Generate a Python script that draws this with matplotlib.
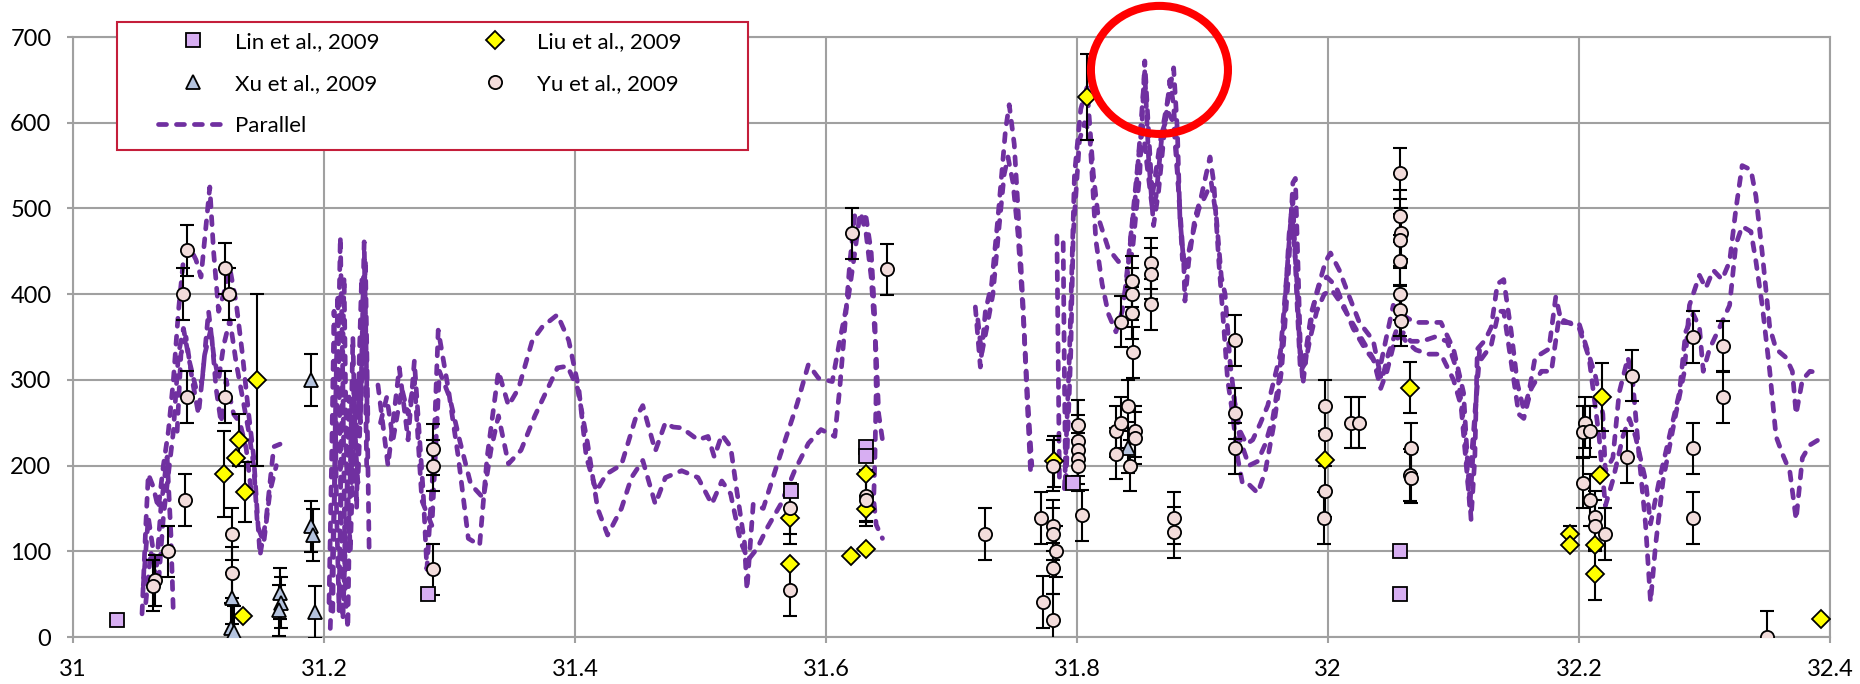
import numpy as np
import matplotlib
matplotlib.use("Agg")
import matplotlib.pyplot as plt
from matplotlib.patches import Ellipse, Rectangle

plt.rcParams['font.family'] = ['Lato', 'DejaVu Sans']

nan = np.nan

# ---- measured data ----
lin_x = [31.035, 31.283, 31.572, 31.632, 31.632, 31.797, 32.057, 32.057]
lin_y = [20, 50, 170, 222, 211, 180, 100, 50]

xu_x = [31.127, 31.126, 31.128, 31.165, 31.166, 31.164, 31.190, 31.190, 31.191, 31.193, 31.841]
xu_y = [45, 10, 6, 51, 40, 31, 300, 129, 119, 29, 221]
xu_err = [30, 30, 30, 30, 30, 30, 30, 30, 30, 30, 30]

liu_x = [31.120, 31.132, 31.130, 31.137, 31.1355, 31.147, 31.571, 31.571, 31.620, 31.632,
         31.632, 31.632, 31.782, 31.808, 31.998, 32.065, 32.193, 32.193, 32.213, 32.213,
         32.217, 32.218, 32.393]
liu_y = [190, 230, 209, 169, 25, 300, 139, 85, 95, 103, 190, 149, 205, 630, 206, 291,
         120, 107, 107, 73, 189, 280, 21]
liu_err = [50, 30, 0, 35, 0, 100, 30, 0, 0, 0, 0, 15, 30, 50, 0, 30, 10, 0, 0, 30, 0, 40, 0]

yu_x = [31.065, 31.064, 31.076, 31.089, 31.091, 31.088, 31.091, 31.121, 31.124, 31.121,
        31.127, 31.127, 31.287, 31.287, 31.287, 31.571, 31.571, 31.621, 31.649, 31.632,
        31.632, 31.727, 31.771, 31.773, 31.781, 31.781, 31.783, 31.781, 31.781, 31.781,
        31.801, 31.801, 31.801, 31.801, 31.801, 31.804, 31.831, 31.831, 31.835, 31.835,
        31.841, 31.844, 31.844, 31.844, 31.845, 31.846, 31.846, 31.842, 31.859, 31.859,
        31.859, 31.877, 31.877, 31.926, 31.926, 31.926, 31.998, 31.998, 31.998, 31.997,
        32.018, 32.025, 32.057, 32.057, 32.058, 32.057, 32.057, 32.057, 32.057, 32.058,
        32.066, 32.065, 32.066, 32.205, 32.203, 32.209, 32.203, 32.209, 32.213, 32.213,
        32.221, 32.242, 32.238, 32.291, 32.291, 32.291, 32.315, 32.315, 32.350]
yu_y = [66, 60, 100, 160, 280, 400, 451, 430, 400, 280,
        120, 75, 219, 200, 79, 150, 55, 471, 429, 165,
        160, 120, 139, 41, 130, 120, 100, 80, 20, 200,
        247, 229, 218, 208, 200, 142, 240, 214, 250, 368,
        270, 378, 400, 415, 332, 240, 232, 200, 436, 424,
        388, 139, 122, 346, 261, 220, 270, 237, 170, 139,
        250, 250, 541, 491, 471, 463, 439, 400, 381, 369,
        220, 189, 186, 250, 239, 240, 180, 160, 140, 130,
        120, 305, 210, 350, 220, 139, 339, 280, 0]
yu_err = [30] * len(yu_x)

# Parallel model, three traces (nan = break)
par1_x = [31.055, 31.058, 31.060, 31.064, 31.068, 31.072, 31.076, 31.080, 31.084, 31.088,
          31.093, 31.098, 31.102, 31.106, 31.109, 31.112, 31.116, 31.120, 31.125, 31.130,
          31.135, 31.140, 31.144, 31.149, 31.154, 31.160, 31.165, nan,
          31.205, 31.208, 31.211, 31.213, 31.215, 31.217, 31.219, 31.221, 31.223, 31.225,
          31.227, 31.229, 31.232, 31.234, 31.236, nan,
          31.243, 31.251, 31.260, 31.267, 31.272, 31.279, 31.282, 31.287, 31.291, 31.299,
          31.307, 31.315, 31.324, 31.330, 31.339, 31.347, 31.355, 31.366, 31.374, 31.386,
          31.395, 31.403, 31.409, 31.417, 31.425, 31.437, 31.448, 31.454, 31.464, 31.472,
          31.478, 31.485, 31.498, 31.506, 31.511, 31.517, 31.524, 31.529, 31.535, 31.537,
          31.542, 31.550, 31.561, 31.577, 31.586, 31.594, 31.605, 31.611, 31.618, 31.623,
          31.627, 31.632, 31.636, 31.639, 31.640, 31.639, 31.638, 31.640, 31.645, nan,
          31.719, 31.723, 31.727, 31.732, 31.737, 31.743, 31.746, 31.750, 31.753, 31.757,
          31.760, 31.763, nan,
          31.784, 31.785, 31.786, nan,
          31.790, 31.794, 31.798, 31.803, 31.808, 31.813, 31.817, 31.825, 31.833, 31.841,
          31.844, 31.850, 31.854, 31.857, 31.860, 31.866, 31.871, 31.877, 31.880, 31.882,
          31.885, 31.886, 31.889, 31.894, 31.899, 31.906, 31.909, 31.913, 31.917, 31.920,
          31.924, 31.928, 31.932, 31.937, 31.944, 31.950, 31.957, 31.963, 31.968, 31.972,
          31.974, 31.976, 31.978, 31.980, 31.985, 31.990, 31.998, 32.002, 32.009, 32.017,
          32.025, 32.036, 32.041, 32.046, 32.052, 32.058, 32.069, 32.082, 32.090, 32.100,
          32.108, 32.111, 32.114, 32.117, 32.119, 32.125, 32.130, 32.135, 32.140, 32.146,
          32.151, 32.156, 32.160, 32.165, 32.176, 32.1815, 32.186, 32.200, 32.213, 32.219,
          32.221, 32.227, 32.232, 32.239, 32.243, 32.248, 32.253, 32.257, 32.261, 32.267,
          32.277, 32.284, 32.288, 32.296, 32.301, 32.307, 32.314, 32.320, 32.325, 32.330,
          32.337, 32.341, 32.346, 32.352, 32.357, 32.365, 32.370, 32.373, 32.378, 32.384,
          32.393]
par1_y = [27, 130, 190, 175, 150, 200, 240, 300, 380, 440,
          455, 440, 420, 480, 525, 450, 380, 400, 430, 390,
          330, 260, 210, 95, 139, 222, 225, nan,
          10, 150, 300, 467, 300, 50, 10, 200, 350, 220,
          300, 250, 461, 300, 99, nan,
          294, 200, 314, 230, 322, 170, 79, 200, 358, 290,
          210, 115, 107, 210, 310, 270, 290, 346, 362, 376,
          346, 290, 210, 170, 190, 201, 254, 270, 217, 250,
          245, 244, 230, 234, 210, 236, 222, 170, 111, 55,
          155, 150, 201, 272, 318, 302, 298, 346, 398, 449,
          493, 489, 449, 370, 290, 210, 160, 131, 115, nan,
          385, 315, 380, 412, 489, 591, 621, 575, 500, 387,
          285, 193, nan,
          468, 330, 183, nan,
          173, 330, 540, 616, 641, 540, 489, 453, 438, 438,
          448, 540, 672, 590, 514, 575, 616, 664, 590, 489,
          438, 392, 438, 489, 514, 560, 530, 438, 361, 300,
          260, 209, 178, 178, 168, 193, 249, 311, 412, 530,
          535, 438, 336, 295, 356, 397, 438, 448, 428, 397,
          367, 346, 311, 346, 387, 377, 367, 367, 367, 336,
          285, 209, 137, 209, 336, 346, 361, 412, 417, 356,
          295, 265, 285, 326, 336, 397, 367, 366, 305, 260,
          193, 209, 285, 326, 295, 209, 132, 41, 107, 183,
          259, 310, 387, 422, 407, 428, 417, 438, 499, 550,
          545, 514, 448, 361, 336, 326, 310, 260, 300, 310,
          308]

par2_x = [31.056, 31.060, 31.064, 31.068, 31.072, 31.076, 31.080, 31.084, 31.088, 31.093,
          31.098, 31.103, 31.108, 31.112, 31.116, 31.120, 31.125, 31.130, 31.135, 31.140,
          31.144, 31.147, 31.152, 31.157, 31.162, nan,
          31.207, 31.209, 31.211, 31.213, 31.215, 31.218, 31.220, 31.222, 31.224, 31.226,
          31.228, 31.230, 31.232, 31.234, nan,
          31.245, 31.250, 31.255, 31.262, 31.267, 31.272, 31.278, 31.286, 31.292, 31.300,
          31.308, 31.317, 31.327, 31.333, 31.339, 31.347, 31.357, 31.368, 31.386, 31.394,
          31.402, 31.410, 31.418, 31.426, 31.437, 31.445, 31.454, 31.464, 31.472, 31.485,
          31.498, 31.509, 31.517, 31.524, 31.532, 31.538, 31.545, 31.553, 31.564, 31.575,
          31.586, 31.596, 31.607, 31.611, 31.615, 31.619, 31.623, 31.628, 31.632, 31.636,
          31.640, 31.642, 31.645, nan,
          31.721, 31.724, 31.728, 31.733, 31.738, 31.742, 31.745, 31.749, 31.753, 31.757,
          31.761, 31.764, nan,
          31.789, 31.790, 31.791, 31.795, 31.797, 31.802, 31.806, 31.810, 31.815, 31.820,
          31.825, 31.831, 31.836, 31.840, 31.845, 31.849, 31.852, 31.855, 31.860, 31.863,
          31.868, 31.873, 31.877, 31.880, 31.884, 31.886, 31.891, 31.897, 31.902, 31.907,
          31.911, 31.915, 31.918, 31.922, 31.926, 31.930, 31.935, 31.940, 31.946, 31.952,
          31.957, 31.962, 31.967, 31.971, 31.975, 31.978, 31.982, 31.987, 31.993, 31.999,
          32.006, 32.013, 32.020, 32.030, 32.038, 32.043, 32.048, 32.055, 32.062, 32.070,
          32.080, 32.090, 32.100, 32.106, 32.112, 32.116, 32.120, 32.130, 32.136, 32.140,
          32.146, 32.152, 32.156, 32.162, 32.170, 32.178, 32.184, 32.200, 32.208, 32.216,
          32.221, 32.227, 32.235, 32.240, 32.245, 32.253, 32.257, 32.264, 32.272, 32.280,
          32.285, 32.291, 32.296, 32.299, 32.304, 32.312, 32.320, 32.325, 32.330, 32.337,
          32.341, 32.346, 32.352, 32.357, 32.362, 32.368, 32.373, 32.378, 32.384, 32.393]
par2_y = [60, 140, 100, 60, 140, 190, 240, 330, 360, 320,
          290, 300, 380, 330, 300, 340, 370, 320, 280, 240,
          200, 130, 110, 170, 200, nan,
          30, 250, 400, 200, 20, 150, 280, 180, 300, 150,
          320, 420, 380, 200, nan,
          250, 280, 230, 290, 260, 300, 159, 130, 310, 280,
          230, 178, 162, 218, 258, 202, 218, 258, 314, 316,
          290, 226, 150, 119, 150, 186, 206, 155, 186, 194,
          186, 155, 182, 167, 111, 90, 103, 127, 155, 194,
          226, 242, 234, 291, 362, 437, 493, 493, 470, 420,
          330, 260, 230, nan,
          370, 330, 360, 400, 480, 540, 560, 530, 470, 380,
          270, 200, nan,
          460, 300, 173, 330, 470, 580, 600, 590, 463, 412,
          377, 356, 380, 420, 500, 560, 600, 560, 500, 514,
          590, 611, 600, 540, 458, 428, 463, 499, 514, 530,
          490, 420, 400, 320, 270, 240, 225, 230, 249, 270,
          300, 330, 420, 500, 420, 320, 330, 380, 410, 420,
          410, 385, 360, 335, 320, 300, 330, 360, 345, 335,
          330, 330, 300, 270, 170, 240, 320, 340, 380, 380,
          320, 260, 255, 290, 310, 310, 372, 361, 326, 234,
          153, 183, 234, 255, 234, 183, 132, 183, 234, 285,
          356, 377, 361, 310, 336, 361, 387, 458, 479, 473,
          438, 387, 310, 234, 214, 193, 137, 209, 224, 232]

par3_x = [31.058, 31.062, 31.066, 31.070, 31.075, 31.078, 31.080, nan,
          31.083, 31.086, 31.090, 31.095, 31.100, 31.105, 31.110, 31.114, 31.118, 31.122,
          31.128, 31.133, 31.138, 31.142, nan,
          31.204, 31.206, 31.208, 31.210, 31.212, 31.214, 31.216, 31.218, 31.221, 31.224,
          31.227, 31.230, 31.233, 31.235, nan,
          31.838, 31.843, 31.847, 31.851, 31.854, 31.857, 31.861, 31.865, 31.869, 31.874,
          31.877, 31.881, 31.884, nan,
          31.925, 31.930, 31.937, 31.944, 31.950, 31.956, 31.961, 31.965, 31.969, 31.972,
          31.975, 31.978, 31.982, 31.986, 31.991, 31.997, 32.003, 32.010, 32.018, 32.028,
          32.036, 32.042, 32.047, 32.053, 32.060, 32.066, 32.075, 32.085, 32.095, 32.103,
          32.109, 32.113, 32.117, 32.121]
par3_y = [40, 100, 70, 150, 210, 120, 25, nan,
          240, 330, 350, 300, 260, 330, 360, 290, 250, 300,
          260, 250, 220, 170, nan,
          40, 200, 380, 150, 30, 250, 420, 200, 100, 250,
          180, 300, 440, 250, nan,
          400, 470, 520, 600, 660, 560, 480, 520, 580, 650,
          620, 520, 440, nan,
          280, 230, 200, 205, 225, 255, 300, 370, 470, 510,
          400, 310, 320, 350, 380, 400, 405, 390, 370, 345,
          325, 290, 310, 345, 355, 345, 345, 350, 345, 310,
          240, 150, 250, 340]

x_ticks = [31, 31.2, 31.4, 31.6, 31.8, 32, 32.2, 32.4]
x_labels = ['31', '31.2', '31.4', '31.6', '31.8', '32', '32.2', '32.4']
y_ticks = [0, 100, 200, 300, 400, 500, 600, 700]

# ---- styling ----
purple = '#7030A0'
grid_c = '#A0A0A0'

fig = plt.figure(figsize=(18.6, 6.84), dpi=100)
ax = fig.add_axes([73 / 1860, 47 / 684, 1757 / 1860, 600 / 684])

dash = (0, (1.7, 2.1))
par_kw = dict(color=purple, lw=3.4, linestyle=dash, dash_capstyle='round', zorder=2)
ax.plot(par1_x, par1_y, label='Parallel', **par_kw)
ax.plot(par2_x, par2_y, **par_kw)
ax.plot(par3_x, par3_y, **par_kw)

eb_kw = dict(fmt='none', ecolor='black', elinewidth=1.5, capsize=5.2, capthick=1.5, zorder=3)
ax.errorbar(xu_x, xu_y, yerr=xu_err, **eb_kw)
ax.errorbar(liu_x, liu_y, yerr=liu_err, **eb_kw)
ax.errorbar(yu_x, yu_y, yerr=yu_err, **eb_kw)

mk = dict(linestyle='none', markeredgecolor='black', markeredgewidth=1.3)
h_lin, = ax.plot(lin_x, lin_y, marker='s', ms=9.5, mfc='#D7AEF2', label='Lin et al., 2009', zorder=4, **mk)
h_xu, = ax.plot(xu_x, xu_y, marker='^', ms=10, mfc='#B4C3DE', label='Xu et al., 2009', zorder=5, **mk)
h_liu, = ax.plot(liu_x, liu_y, marker='D', ms=9, mfc='#FFFF00', label='Liu et al., 2009', zorder=6, **mk)
h_yu, = ax.plot(yu_x, yu_y, marker='o', ms=9.5, mfc='#F2DCDB', label='Yu et al., 2009', zorder=7, **mk)
h_par = ax.get_lines()[0]

ax.set_xlim(31, 32.4)
ax.set_ylim(0, 700)
ax.set_xticks(x_ticks)
ax.set_xticklabels(x_labels)
ax.set_yticks(y_ticks)
ax.grid(True, color=grid_c, lw=1.5, zorder=0)
ax.set_axisbelow(True)
for s in ax.spines.values():
    s.set_color(grid_c)
    s.set_linewidth(1.5)
ax.tick_params(direction='out', length=4.5, width=1.5, color=grid_c, pad=11,
               labelsize=17, labelcolor='black')

# highlight ring
ring = Ellipse((31.8657, 661.6), 0.1092, 149.4, fill=False, edgecolor='#FF0000',
               lw=5.8, clip_on=False, zorder=10)
ax.add_patch(ring)

# legend with its own white box
fig.patches.append(Rectangle((117 / 1860, 1 - 150 / 684), 631 / 1860, 128 / 684,
                             transform=fig.transFigure, facecolor='white',
                             edgecolor='#C41E3A', lw=1.5, zorder=4))
fig.legend([h_lin, h_xu, h_par, h_liu, h_yu],
           ['Lin et al., 2009', 'Xu et al., 2009', 'Parallel', 'Liu et al., 2009', 'Yu et al., 2009'],
           ncol=2, loc='upper left', bbox_to_anchor=(158 / 1860, 1 - 32 / 684),
           frameon=False, fontsize=16, handlelength=3.15, handletextpad=0.32,
           columnspacing=3.6, labelspacing=0.99, borderpad=0, borderaxespad=0)

fig.savefig('out.png', dpi=100)
